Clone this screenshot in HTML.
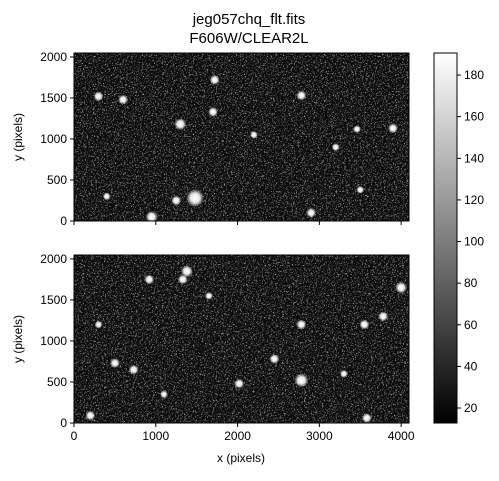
<!DOCTYPE html>
<html><head><meta charset="utf-8"><style>
body{margin:0;background:#fff;}
svg text{font-family:"Liberation Sans",sans-serif;fill:#000;}
</style></head><body>
<svg id="fig" width="499" height="476" xmlns="http://www.w3.org/2000/svg">
<defs>
<filter id="noise" x="0" y="0" width="100%" height="100%">
<feTurbulence type="fractalNoise" baseFrequency="0.9" numOctaves="1" seed="3" result="t"/>
<feColorMatrix in="t" type="matrix" values="0 0 0 0 1  0 0 0 0 1  0 0 0 0 1  5 0 0 0 -2.9" result="s"/>
<feComposite in="s" in2="SourceGraphic" operator="in"/>
</filter>
<filter id="noise2" x="0" y="0" width="100%" height="100%">
<feTurbulence type="fractalNoise" baseFrequency="0.45" numOctaves="2" seed="9" result="t"/>
<feColorMatrix in="t" type="matrix" values="0 0 0 0 1  0 0 0 0 1  0 0 0 0 1  4 0 0 0 -2.3" result="s"/>
<feComposite in="s" in2="SourceGraphic" operator="in"/>
</filter>
<radialGradient id="star"><stop offset="0" stop-color="#fff"/><stop offset="0.5" stop-color="#fff" stop-opacity="0.9"/><stop offset="1" stop-color="#fff" stop-opacity="0"/></radialGradient>
<linearGradient id="cb" x1="0" y1="1" x2="0" y2="0"><stop offset="0" stop-color="#000"/><stop offset="1" stop-color="#fff"/></linearGradient>
</defs>
<text x="249" y="24" font-size="15" text-anchor="middle">jeg057chq_flt.fits</text>
<text x="249" y="43" font-size="15" text-anchor="middle">F606W/CLEAR2L</text>
<g id="panels"></g>
<g id="cbar"></g>
</svg>
<script>
const xTicks=[0,1000,2000,3000,4000];
const yTicks=[0,500,1000,1500,2000];
const cbTicks=[20,40,60,80,100,120,140,160,180];
const cbRange=[12.8,190.6];
const topStars=[[1480,280,9],[950,50,6],[1300,1180,6],[1720,1720,5],[1700,1330,5],[300,1520,5],[600,1480,5],[2780,1530,5],[3900,1130,5],[3460,1120,4],[3500,380,4],[2900,100,5],[3200,900,4],[1250,250,5],[2200,1050,4],[400,300,4]];
const botStars=[[1380,1850,6],[1330,1750,5],[920,1750,5],[2780,520,7],[2450,780,5],[2020,480,5],[4000,1650,6],[3550,1200,5],[3780,1300,5],[730,650,5],[500,730,5],[200,90,5],[3580,60,5],[1100,350,4],[2780,1200,5],[300,1200,4],[3300,600,4],[1650,1550,4]];
const NS="http://www.w3.org/2000/svg";
const fig=document.getElementById('panels');
function mk(t,a,p){const e=document.createElementNS(NS,t);for(const k in a)e.setAttribute(k,a[k]);(p||fig).appendChild(e);return e;}
const X0=74,X1=409,XMAX=4096,YMAX=2048;
const sx=v=>X0+v/XMAX*(X1-X0);
function panel(top,bot,stars,name,showX){
  const g=mk('g',{});
  
  
  const sy=v=>bot-v/YMAX*(bot-top);
  mk('rect',{x:X0,y:top,width:X1-X0,height:bot-top,fill:'#0c0c0c'},g);
  mk('rect',{x:X0,y:top,width:X1-X0,height:bot-top,fill:'#fff',filter:'url(#noise2)',opacity:0.4},g);
  mk('rect',{x:X0,y:top,width:X1-X0,height:bot-top,fill:'#fff',filter:'url(#noise)',opacity:0.75},g);
  stars.forEach(s=>{const c=mk('circle',{cx:sx(s[0]),cy:sy(s[1]),r:s[2],fill:'url(#star)'},g);
    
    });
  mk('rect',{x:X0,y:top,width:X1-X0,height:bot-top,fill:'none',stroke:'#000','stroke-width':1},g);
  yTicks.forEach(t=>{const y=sy(t);mk('line',{x1:X0-4,x2:X0,y1:y,y2:y,stroke:'#000'},g);
    const tx=mk('text',{x:X0-7,y:y+4,'font-size':12,'text-anchor':'end'},g);tx.textContent=t;
    
    });
  xTicks.forEach(t=>{const x=sx(t);mk('line',{x1:x,x2:x,y1:bot,y2:bot+4,stroke:'#000'},g);
    if(showX){const tx=mk('text',{x:x,y:bot+17,'font-size':12,'text-anchor':'middle'},g);tx.textContent=t;
    
    }});
  const yl=mk('text',{x:0,y:0,'font-size':12,'text-anchor':'middle',transform:`translate(22,${(top+bot)/2}) rotate(-90)`},g);
  yl.textContent='y (pixels)';
  
  
}
panel(53,221,topStars,'top-image-panel',false);
panel(255,423,botStars,'bottom-image-panel',true);
const xl=mk('text',{x:241,y:462,'font-size':12,'text-anchor':'middle'});xl.textContent='x (pixels)';


const cb=document.getElementById('cbar');


const CT=53,CB=423,CX=434,CW=23;
const cy=v=>CB-(v-cbRange[0])/(cbRange[1]-cbRange[0])*(CB-CT);
mk('rect',{x:CX,y:CT,width:CW,height:CB-CT,fill:'url(#cb)',stroke:'#000'},cb);
cbTicks.forEach(t=>{const y=cy(t);mk('line',{x1:CX+CW,x2:CX+CW+4,y1:y,y2:y,stroke:'#000'},cb);
  const tx=mk('text',{x:CX+CW+7,y:y+4,'font-size':12},cb);tx.textContent=t;
  
  });
</script>
</body></html>
